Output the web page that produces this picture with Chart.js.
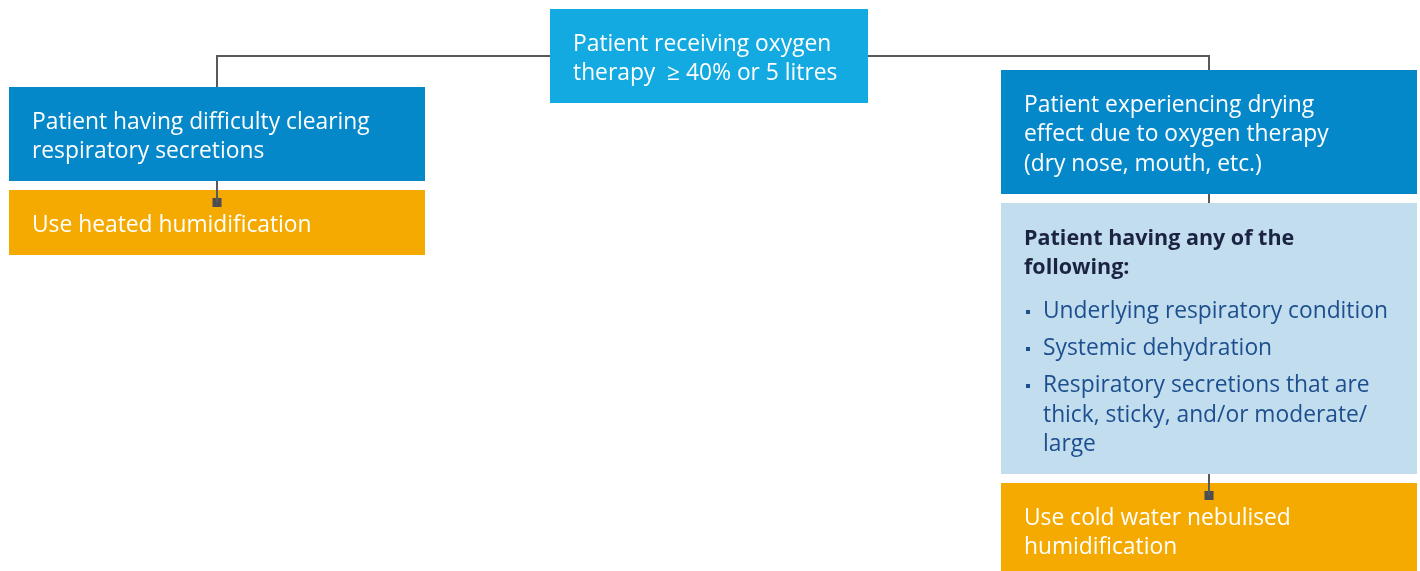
<!DOCTYPE html>
<html>
<head>
<meta charset="utf-8">
<script src="https://cdn.jsdelivr.net/npm/chart.js@4.4.1/dist/chart.umd.min.js"></script>
<style>
  html, body { margin: 0; padding: 0; background: #fff; }
  #wrap { width: 1420px; height: 571px; }
</style>
</head>
<body>
<div id="wrap"><canvas id="flowChart"></canvas></div>
<script>
// ── Data ─────────────
const nodeIds  = ['start', 'left', 'leftAction', 'right', 'criteria', 'rightAction'];
const nodeKind = ['root', 'question', 'action', 'question', 'criteria', 'action'];
const nodeText = [
    ['Patient receiving oxygen', 'therapy  \u2265 40% or 5 litres'],
    ['Patient having difficulty clearing', 'respiratory secretions'],
    ['Use heated humidification'],
    ['Patient experiencing drying', 'effect due to oxygen therapy', '(dry nose, mouth, etc.)'],
    ['Patient having any of the', 'following:'],
    ['Use cold water nebulised', 'humidification']
];
const criteriaItems = [
    ['Underlying respiratory condition'],
    ['Systemic dehydration'],
    ['Respiratory secretions that are', 'thick, sticky, and/or moderate/', 'large']
];
const links = [
    ['start', 'left'],
    ['start', 'right'],
    ['left', 'leftAction'],
    ['right', 'criteria'],
    ['criteria', 'rightAction']
];

// ── Layout (chart units, y grows downwards) ─────────────
const boxLayout = {
    start:       [550, 9, 868, 103],
    left:        [9, 87, 425, 181],
    leftAction:  [9, 190, 425, 255],
    right:       [1001, 70, 1417, 194],
    criteria:    [1001, 203, 1417, 474],
    rightAction: [1001, 483, 1417, 571]
};
const REG = '400 22.8px "Open Sans"';
const kindStyle = {
    root:     { fill: '#13a9e1', color: '#ffffff', font: REG },
    question: { fill: '#0588c9', color: '#ffffff', font: REG },
    action:   { fill: '#f4aa00', color: '#ffffff', font: REG },
    criteria: { fill: '#c1ddee', color: '#1b2341', font: '700 21.5px "Open Sans"' }
};
const LINE = '#58595b';
const PAD_X = 23, FIRST_LINE = 35.5, LINE_H = 29.5;

const box = id => boxLayout[id];
const kindOf = id => nodeKind[nodeIds.indexOf(id)];

// connectors built from the box layout
const linkSets = links.map(([from, to]) => {
    const a = box(from), b = box(to);
    const bx = (b[0] + b[2]) / 2;
    if (kindOf(from) === 'root') {
        const my = (a[1] + a[3]) / 2;
        const sx = bx < a[0] ? a[0] : a[2];
        return [{ x: sx, y: my }, { x: bx, y: my }, { x: bx, y: b[1] }];
    }
    const end = kindOf(to) === 'action' ? b[1] + 12.5 : b[1];
    return [{ x: bx, y: a[3] }, { x: bx, y: end }];
});
const squares = links
    .filter(([, to]) => kindOf(to) === 'action')
    .map(([, to]) => { const b = box(to); return { x: (b[0] + b[2]) / 2, y: b[1] + 12.5 }; });

// ── Boxes and text ─────────────
const flowPlugin = {
    id: 'flowBoxes',
    beforeDatasetsDraw(chart) {
        const { ctx, scales: { x, y } } = chart;
        ctx.save();
        nodeIds.forEach((id, i) => {
            const b = box(id);
            const x0 = x.getPixelForValue(b[0]), x1 = x.getPixelForValue(b[2]);
            const y0 = y.getPixelForValue(b[1]), y1 = y.getPixelForValue(b[3]);
            ctx.fillStyle = kindStyle[nodeKind[i]].fill;
            ctx.fillRect(x0, y0, x1 - x0, y1 - y0);
        });
        ctx.restore();
    },
    afterDatasetsDraw(chart) {
        const { ctx, scales: { x, y } } = chart;
        ctx.save();
        ctx.textBaseline = 'middle';
        ctx.textAlign = 'left';
        nodeIds.forEach((id, i) => {
            const b = box(id), st = kindStyle[nodeKind[i]];
            ctx.fillStyle = st.color;
            ctx.font = st.font;
            nodeText[i].forEach((line, k) => {
                ctx.fillText(line, x.getPixelForValue(b[0] + PAD_X),
                    y.getPixelForValue(b[1] + FIRST_LINE + k * LINE_H));
            });
            if (nodeKind[i] === 'criteria') {
                let cy = b[1] + FIRST_LINE + (nodeText[i].length - 1) * LINE_H + 44;
                ctx.font = REG;
                criteriaItems.forEach(item => {
                    ctx.fillStyle = '#1d4f8f';
                    const bxp = x.getPixelForValue(b[0] + 27), byp = y.getPixelForValue(cy);
                    ctx.fillRect(bxp - 2, byp - 2, 4, 4);
                    item.forEach((line, k) => {
                        ctx.fillText(line, x.getPixelForValue(b[0] + 42),
                            y.getPixelForValue(cy + k * LINE_H));
                    });
                    cy += (item.length - 1) * LINE_H + 37;
                });
            }
        });
        ctx.restore();
    }
};

const datasets = linkSets.map(pts => ({
    type: 'line', data: pts, borderColor: LINE, borderWidth: 2,
    pointRadius: 0, tension: 0, fill: false, clip: false
}));
datasets.push({
    type: 'scatter', data: squares, pointStyle: 'rect', pointRadius: 6.4,
    backgroundColor: '#4d4d4f', borderWidth: 0, clip: false
});

new Chart(document.getElementById('flowChart'), {
    type: 'scatter',
    data: { datasets },
    options: {
        responsive: true,
        maintainAspectRatio: false,
        animation: false,
        events: [],
        layout: { padding: 0, autoPadding: false },
        scales: {
            x: { type: 'linear', min: 0, max: 1420, display: false },
            y: { type: 'linear', min: 0, max: 571, reverse: true, display: false }
        },
        plugins: { legend: { display: false }, tooltip: { enabled: false } }
    },
    plugins: [flowPlugin]
});
</script>
</body>
</html>
